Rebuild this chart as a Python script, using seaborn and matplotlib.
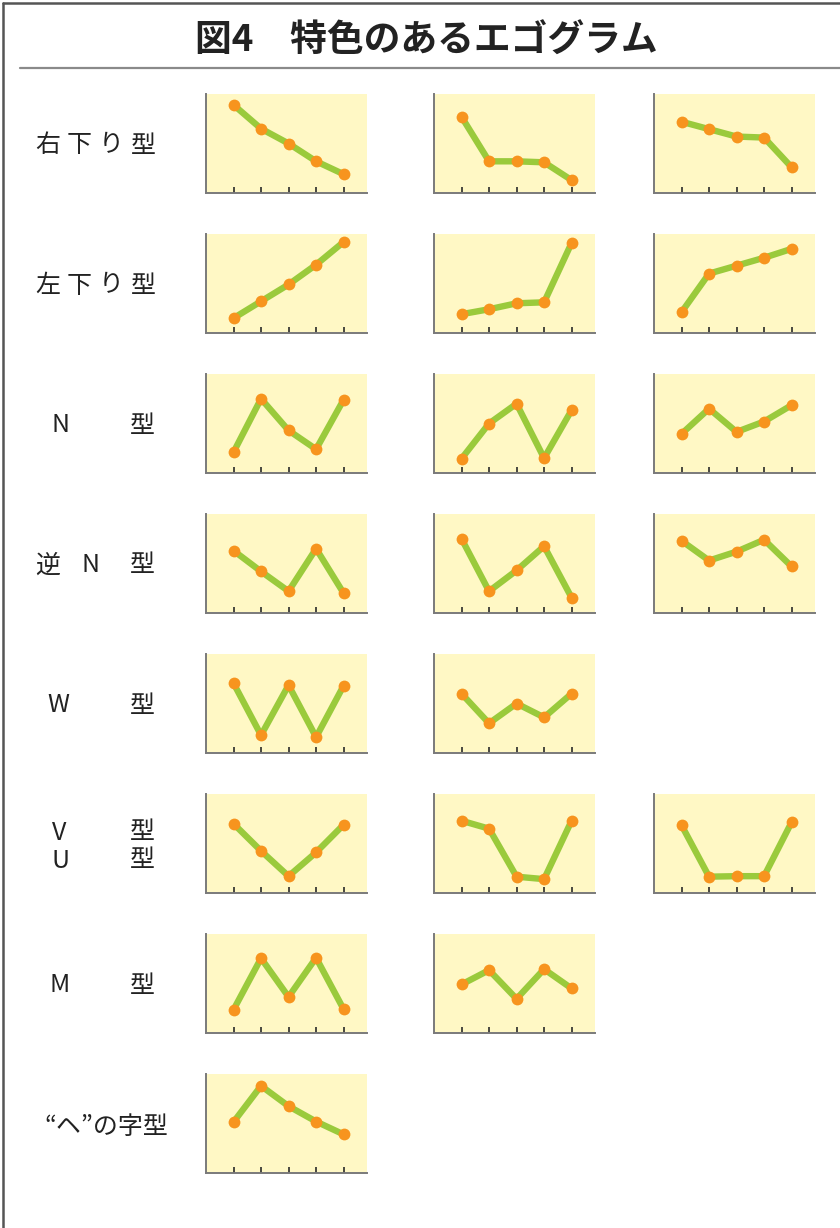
import numpy as np
import pandas as pd
import seaborn as sns
from matplotlib import pyplot as plt
from matplotlib.lines import Line2D

sns.set_theme(style='white')
plt.rcParams['font.family'] = ['Noto Sans CJK JP', 'DejaVu Sans']

# five scale positions on the x axis
scale = [1, 2, 3, 4, 5]

# values (0-100)
migisagari = [[89, 65, 50, 32, 19], [77, 32, 32, 31, 13], [72, 64.5, 57, 56, 26]]
hidarisagari = [[15, 32, 49, 69, 92], [19, 24, 30, 31, 91], [21, 60, 68, 76, 85]]
n_gata = [[21, 75, 43, 24, 74], [14.5, 50, 70, 15, 63.5], [39.5, 65, 41.5, 52, 68.5]]
gyaku_n = [[63, 42, 22, 65, 20], [75, 22, 43, 67.5, 15.5], [73, 53, 62, 74, 47]]
w_gata = [[70.5, 18, 68.5, 16, 68], [60, 30, 50, 36, 60]]
vu_gata = [[70, 42.5, 17, 41, 69], [73, 65, 16.5, 14, 73], [68.5, 16.5, 17, 17, 71.5]]
m_gata = [[23.5, 75.5, 36.5, 76, 24], [49, 63.5, 34.5, 64.5, 45]]
he_gata = [[51.5, 88, 67.5, 52, 39]]

rows = [migisagari, hidarisagari, n_gata, gyaku_n, w_gata, vu_gata, m_gata, he_gata]

title = "図4　特色のあるエゴグラム"

W, H = 840, 1228
fig = plt.figure(figsize=(W / 100, H / 100), dpi=100)
fig.patch.set_facecolor('white')
renderer = fig.canvas.get_renderer()

# row labels: (text, left x in px, y offset from panel centre in px, letter spacing px)
row_labels = [
    [("右下り型", 35, 0, 7)],
    [("左下り型", 35, 0, 7)],
    [("N", 52, 0, 0), ("型", 130, 0, 0)],
    [("逆", 35, 0, 0), ("N", 81, 0, 0), ("型", 130, 0, 0)],
    [("W", 47, 0, 0), ("型", 130, 0, 0)],
    [("V", 52, -13, 0), ("型", 130, -13, 0), ("U", 52, 15, 0), ("型", 130, 15, 0)],
    [("M", 49, 0, 0), ("型", 130, 0, 0)],
    [("“ヘ”の字型", 44, 2, 0)],
]


def spaced_text(x, y, s, extra):
    # draw a string char by char so letter spacing can be widened
    if extra == 0:
        fig.text(x / W, 1 - y / H, s, fontsize=18, color='#222222',
                 ha='left', va='center')
        return
    for ch in s:
        t = fig.text(x / W, 1 - y / H, ch, fontsize=18, color='#222222',
                     ha='left', va='center')
        x += t.get_window_extent(renderer).width + extra


col_left = [206, 434, 654]
pw, ph = 161, 99
row_top0, row_step = 94, 140

line_col = '#9ACA3C'
dot_col = '#F7941E'
panel_bg = '#FFF8C5'

for r, panels in enumerate(rows):
    top = row_top0 + row_step * r
    cy = top + ph / 2 + 2
    for txt, x, dy, extra in row_labels[r]:
        spaced_text(x, cy + dy, txt, extra)
    for c, vals in enumerate(panels):
        ax = fig.add_axes([col_left[c] / W, 1 - (top + ph) / H, pw / W, ph / H])
        df = pd.DataFrame({'pos': scale, 'val': vals})
        sns.lineplot(data=df, x='pos', y='val', ax=ax, color=line_col,
                     linewidth=4.6, marker='o', markersize=8.5,
                     markerfacecolor=dot_col, markeredgecolor=dot_col,
                     markeredgewidth=0, solid_capstyle='round', solid_joinstyle='round')
        ax.set_facecolor(panel_bg)
        ax.set_xlim(0, 5.85)
        ax.set_ylim(0, 100)
        ax.set_xticks(scale)
        ax.set_xticklabels([])
        ax.set_yticks([])
        ax.set_xlabel('')
        ax.set_ylabel('')
        ax.tick_params(axis='x', direction='in', length=4.5, width=1.2,
                       color='#2a2a2a', bottom=True)
        for s in ['top', 'right']:
            ax.spines[s].set_visible(False)
        for s in ['left', 'bottom']:
            ax.spines[s].set_color('#7a7a7a')
            ax.spines[s].set_linewidth(1.4)

# title and frame
fig.text(426 / W, 1 - 41 / H, title, fontsize=26.5, fontweight='bold',
         color='#222222', ha='center', va='center')
fig.add_artist(Line2D([20 / W, 1], [1 - 68 / H, 1 - 68 / H], color='#8a8a8a',
                      linewidth=1.6, transform=fig.transFigure))
fig.add_artist(Line2D([3 / W, 1], [1 - 3 / H, 1 - 3 / H], color='#555555',
                      linewidth=1.8, transform=fig.transFigure))
fig.add_artist(Line2D([3 / W, 3 / W], [1 - 3 / H, 0], color='#555555',
                      linewidth=1.8, transform=fig.transFigure))

plt.savefig('out.png', dpi=100)
